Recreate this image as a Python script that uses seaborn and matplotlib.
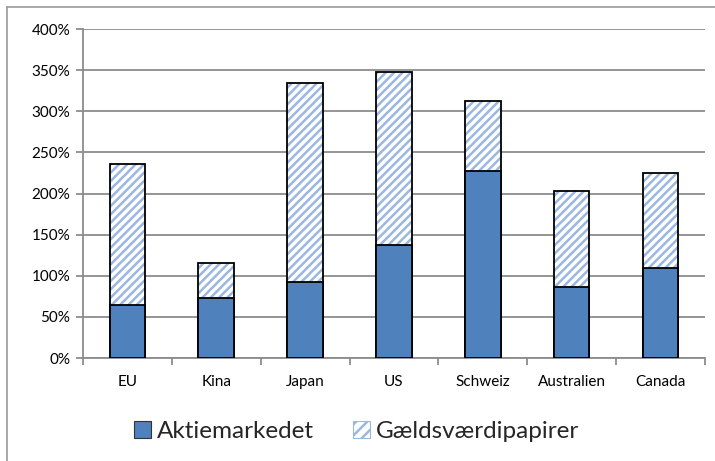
import numpy as np
import pandas as pd
import seaborn as sns
import matplotlib.pyplot as plt
from matplotlib.patches import Patch
from matplotlib.ticker import PercentFormatter, MultipleLocator

lande = ["EU", "Kina", "Japan", "US", "Schweiz", "Australien", "Canada"]
aktiemarkedet = [64, 73, 93, 138, 227, 86, 109]
gaeld = [172, 43, 241, 210, 86, 117, 116]

df = pd.DataFrame({"land": lande, "aktie": aktiemarkedet, "gaeld": gaeld})
df["total"] = df["aktie"] + df["gaeld"]

sns.set_theme(style="white")
plt.rcParams["font.family"] = ["Lato", "DejaVu Sans"]
plt.rcParams["hatch.linewidth"] = 1.8

blue = "#4F81BD"
hatch_col = "#9BB8E2"
grid_col = "#8C8C8C"

fig = plt.figure(figsize=(7.15, 4.61), dpi=100)
ax = fig.add_axes([0.116, 0.2234, 0.87, 0.7136])

# hatched total bars
sns.barplot(data=df, x="land", y="total", color="white", width=0.4, ax=ax,
            saturation=1, hatch="////", edgecolor=hatch_col, linewidth=0, zorder=2)
# outline of the total bars
sns.barplot(data=df, x="land", y="total", fill=False, width=0.4, ax=ax,
            edgecolor="black", linewidth=1.3, zorder=4)
# solid bottom bars
sns.barplot(data=df, x="land", y="aktie", color=blue, width=0.4, ax=ax,
            saturation=1, edgecolor="black", linewidth=1.3, zorder=5)

ax.set_ylim(0, 400)
ax.set_xlim(-0.5, len(lande) - 0.5)
ax.yaxis.set_major_locator(MultipleLocator(50))
ax.yaxis.set_major_formatter(PercentFormatter(decimals=0))
ax.yaxis.grid(True, color=grid_col, linewidth=1.3, zorder=0)
ax.set_axisbelow(True)
ax.set_xlabel("")
ax.set_ylabel("")

for s in ["top", "right"]:
    ax.spines[s].set_visible(False)
for s in ["left", "bottom"]:
    ax.spines[s].set_color(grid_col)
    ax.spines[s].set_linewidth(1.3)

ax.set_xticks(np.arange(len(lande)))
ax.set_xticklabels(lande)
ax.set_xticks(np.arange(len(lande) + 1) - 0.5, minor=True)
ax.tick_params(axis="x", which="major", length=0, labelsize=11, colors="black", pad=12)
ax.tick_params(axis="x", which="minor", length=5, width=1.3, color=grid_col, direction="out", bottom=True)
ax.tick_params(axis="y", length=5, width=1.3, color=grid_col, direction="out", left=True,
               labelsize=11, labelcolor="black", pad=4)

handles = [Patch(facecolor=blue, edgecolor="#333333", linewidth=0.8, label="Aktiemarkedet"),
           Patch(facecolor="white", edgecolor=hatch_col, hatch="///", linewidth=0.8,
                 label="Gældsværdipapirer")]
fig.legend(handles=handles, loc="center", bbox_to_anchor=(0.499, 0.063), ncol=2,
           frameon=False, fontsize=17.5, handlelength=0.7, handleheight=0.7,
           handletextpad=0.25, columnspacing=1.6)

# chart frame (top and left edges visible)
fig.add_artist(plt.Line2D([7 / 715, 1], [1 - 7 / 461, 1 - 7 / 461], color="#999999", lw=1.2))
fig.add_artist(plt.Line2D([7 / 715, 7 / 715], [0, 1 - 7 / 461], color="#999999", lw=1.2))

fig.savefig("out.png", dpi=100)
